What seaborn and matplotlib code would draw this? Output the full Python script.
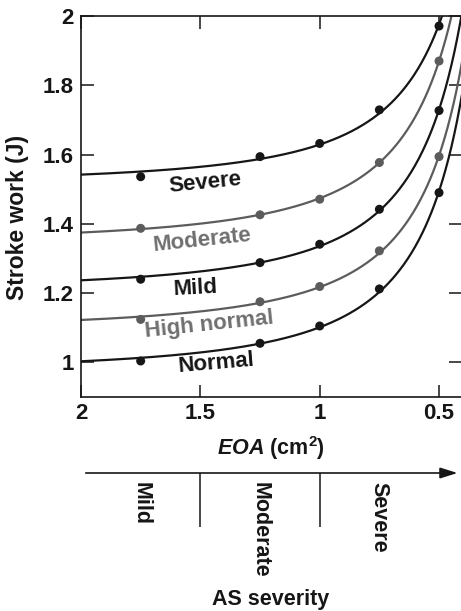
import numpy as np
import pandas as pd
import matplotlib
matplotlib.use("Agg")
import matplotlib.pyplot as plt
import seaborn as sns

# Effective orifice area (cm^2) at which stroke work was computed
eoa = [1.75, 1.25, 1.0, 0.75, 0.5]

# Stroke work (J) for each hypertension level
sw_severe = [1.536, 1.594, 1.632, 1.729, 1.971]
sw_moderate = [1.387, 1.426, 1.471, 1.577, 1.870]
sw_mild = [1.240, 1.288, 1.341, 1.442, 1.727]
sw_high_normal = [1.124, 1.175, 1.219, 1.322, 1.594]
sw_normal = [1.004, 1.055, 1.105, 1.212, 1.490]

series_names = ["Severe", "Moderate", "Mild", "High normal", "Normal"]
series_values = [sw_severe, sw_moderate, sw_mild, sw_high_normal, sw_normal]

x_ticks = [2, 1.5, 1, 0.5]
x_tick_labels = ["2", "1.5", "1", "0.5"]
y_ticks = [1, 1.2, 1.4, 1.6, 1.8, 2]
y_tick_labels = ["1", "1.2", "1.4", "1.6", "1.8", "2"]

# AS severity bands along the EOA axis
severity_names = ["Mild", "Moderate", "Severe"]
severity_centers = [1.75, 1.25, 0.75]
severity_bounds = [1.5, 1.0]

sns.set_theme(style="ticks")
plt.rcParams["font.family"] = ["Liberation Sans", "DejaVu Sans"]
plt.rcParams["font.weight"] = "bold"
plt.rcParams["mathtext.fontset"] = "custom"
plt.rcParams["mathtext.rm"] = "Liberation Sans:bold"
plt.rcParams["mathtext.it"] = "Liberation Sans:italic:bold"
plt.rcParams["mathtext.bf"] = "Liberation Sans:bold"

BLACK = "#161616"
GREY = "#5c5c5c"
GREY_TEXT = "#6f6f6f"
colors = [BLACK, GREY, BLACK, GREY, BLACK]
text_colors = [BLACK, GREY_TEXT, BLACK, GREY_TEXT, BLACK]

XLIM = (2.0, 0.408)
YLIM = (0.9, 2.0)

fig = plt.figure(figsize=(4.61, 6.11), dpi=100)
ax = fig.add_axes([81 / 461, 1 - 397 / 611, 380 / 461, 381 / 611])

# Smooth curves: least-squares fit of stroke work against 1/EOA^2
grid = np.linspace(2.0, 0.40, 400)
eoa_arr = np.array(eoa)
for name, vals, col in zip(series_names, series_values, colors):
    coef = np.polyfit(1.0 / eoa_arr ** 2, np.array(vals), 1)
    fit = np.polyval(coef, 1.0 / grid ** 2)
    curve = pd.DataFrame({"EOA": grid, "SW": fit})
    sns.lineplot(data=curve, x="EOA", y="SW", ax=ax, color=col, lw=1.6,
                 sort=False, legend=False)
    pts = pd.DataFrame({"EOA": eoa, "SW": vals})
    sns.scatterplot(data=pts, x="EOA", y="SW", ax=ax, color=col, s=42,
                    edgecolor="none", zorder=3, legend=False)

# Curve labels
label_pos = {
    "Severe": (1.481, 1.518, 5.7),
    "Moderate": (1.494, 1.353, 6.0),
    "Mild": (1.519, 1.215, 3.0),
    "High normal": (1.464, 1.108, 6.0),
    "Normal": (1.435, 0.998, 4.8),
}
for name, tc in zip(series_names, text_colors):
    x, y, rot = label_pos[name]
    ax.text(x, y, name, color=tc, fontsize=16, fontweight="bold",
            ha="center", va="center", rotation=rot, rotation_mode="anchor")

ax.set_xlim(*XLIM)
ax.set_ylim(*YLIM)
ax.set_xticks(x_ticks)
ax.set_xticklabels(x_tick_labels)
ax.set_yticks(y_ticks)
ax.set_yticklabels(y_tick_labels)
ax.tick_params(axis="both", which="major", direction="in", length=9, width=1.1,
               color=BLACK, labelsize=16, labelcolor=BLACK,
               top=True, right=True)
ax.tick_params(axis="x", pad=4)
ax.tick_params(axis="y", pad=5)
for lbl in ax.get_xticklabels() + ax.get_yticklabels():
    lbl.set_fontweight("bold")
for side in ["left", "bottom", "top"]:
    ax.spines[side].set_color(BLACK)
    ax.spines[side].set_linewidth(1.2)
ax.spines["right"].set_visible(False)

ax.set_ylabel("Stroke work (J)", fontsize=16.5, fontweight="bold", color=BLACK)
ax.yaxis.set_label_coords(-0.166, 0.472)
ax.yaxis.label.set_va("center")
ax.set_xlabel(r"$\mathit{EOA}$ (cm$^{2}$)", fontsize=15.5, fontweight="bold",
              color=BLACK)
ax.xaxis.set_label_coords(0.5, -0.134)
ax.xaxis.label.set_va("center")

# Severity scale below the EOA axis
ax2 = fig.add_axes([81 / 461, 0.0, 380 / 461, 138 / 611])
ax2.set_xlim(*XLIM)
ax2.set_ylim(0, 1)
ax2.axis("off")
ax2.annotate("", xy=(0.423, 1.0), xytext=(1.98, 1.0),
             xycoords="data", textcoords="data",
             arrowprops=dict(arrowstyle="-|>,head_length=0.7,head_width=0.22",
                             color=BLACK, lw=1.2, mutation_scale=15,
                             shrinkA=0, shrinkB=0),
             annotation_clip=False)
ax2.vlines(severity_bounds, 0.6087, 1.0, color=BLACK, lw=1.1)
for name, c in zip(severity_names, severity_centers):
    ax2.text(c, 0.935, name, rotation=-90, ha="center", va="top",
             fontsize=15.5, fontweight="bold", color=BLACK)
ax2.text(0.5, 0.08, "AS severity", transform=ax2.transAxes, ha="center",
         va="center", fontsize=15.5, fontweight="bold", color=BLACK)

fig.savefig("out.png", dpi=100)
